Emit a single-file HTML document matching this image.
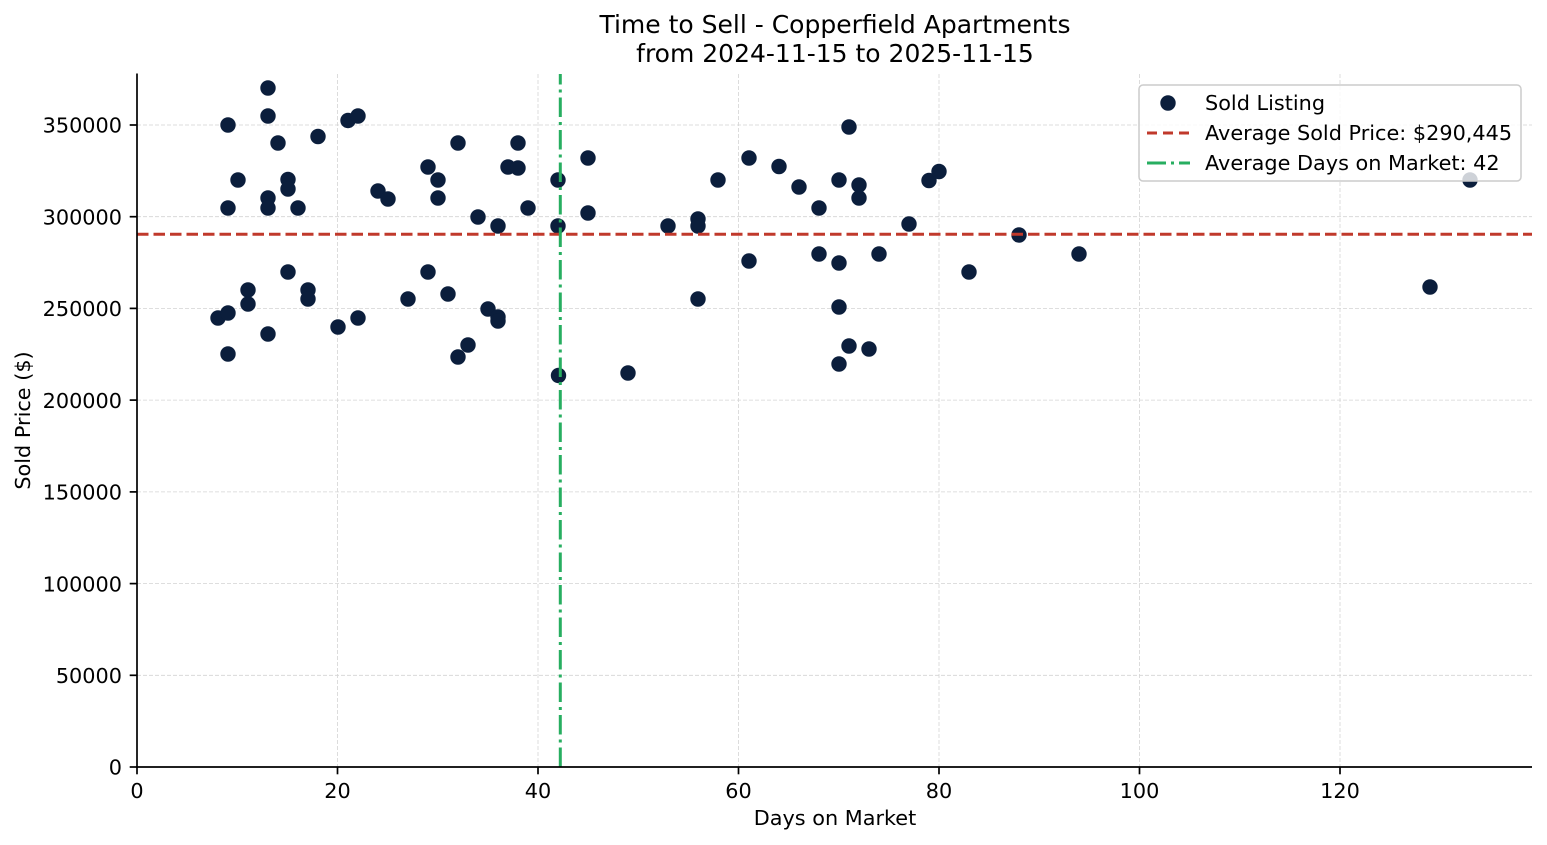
<!DOCTYPE html>
<html>
<head>
<meta charset="utf-8">
<style>
html,body{margin:0;padding:0;background:#fff;}
svg{display:block;}
text{font-family:"DejaVu Sans","Liberation Sans",sans-serif;fill:#000;}
</style>
</head>
<body>
<svg width="1547" height="845" viewBox="0 0 1547 845" xmlns="http://www.w3.org/2000/svg">
<rect width="1547" height="845" fill="#fff"/>
<g stroke="#d4d4d4" stroke-width="0.8" stroke-dasharray="4 2" fill="none">
<line x1="337.5" y1="74" x2="337.5" y2="767"/>
<line x1="538" y1="74" x2="538" y2="767"/>
<line x1="738.5" y1="74" x2="738.5" y2="767"/>
<line x1="939" y1="74" x2="939" y2="767"/>
<line x1="1139.5" y1="74" x2="1139.5" y2="767"/>
<line x1="1340" y1="74" x2="1340" y2="767"/>
<line x1="137" y1="675.3" x2="1532" y2="675.3"/>
<line x1="137" y1="583.6" x2="1532" y2="583.6"/>
<line x1="137" y1="491.9" x2="1532" y2="491.9"/>
<line x1="137" y1="400.1" x2="1532" y2="400.1"/>
<line x1="137" y1="308.4" x2="1532" y2="308.4"/>
<line x1="137" y1="216.7" x2="1532" y2="216.7"/>
<line x1="137" y1="125" x2="1532" y2="125"/>
</g>
<g fill="#0b1e3c">
<circle cx="268" cy="88" r="7.7"/>
<circle cx="228" cy="125" r="7.7"/>
<circle cx="268" cy="116" r="7.7"/>
<circle cx="278" cy="143" r="7.7"/>
<circle cx="318" cy="136.5" r="7.7"/>
<circle cx="348" cy="120.5" r="7.7"/>
<circle cx="358" cy="116" r="7.7"/>
<circle cx="238" cy="180" r="7.7"/>
<circle cx="288" cy="179.5" r="7.7"/>
<circle cx="288" cy="189" r="7.7"/>
<circle cx="268" cy="198" r="7.7"/>
<circle cx="268" cy="208" r="7.7"/>
<circle cx="228" cy="208" r="7.7"/>
<circle cx="298" cy="208" r="7.7"/>
<circle cx="378" cy="191" r="7.7"/>
<circle cx="388" cy="199" r="7.7"/>
<circle cx="428" cy="167" r="7.7"/>
<circle cx="428" cy="272" r="7.7"/>
<circle cx="288" cy="272" r="7.7"/>
<circle cx="248" cy="290" r="7.7"/>
<circle cx="248" cy="304" r="7.7"/>
<circle cx="308" cy="290" r="7.7"/>
<circle cx="308" cy="299" r="7.7"/>
<circle cx="408" cy="299" r="7.7"/>
<circle cx="218" cy="318" r="7.7"/>
<circle cx="228" cy="313" r="7.7"/>
<circle cx="358" cy="318" r="7.7"/>
<circle cx="338" cy="327" r="7.7"/>
<circle cx="268" cy="334" r="7.7"/>
<circle cx="228" cy="354" r="7.7"/>
<circle cx="458" cy="143" r="7.7"/>
<circle cx="518" cy="143" r="7.7"/>
<circle cx="508" cy="167" r="7.7"/>
<circle cx="518" cy="168" r="7.7"/>
<circle cx="438" cy="180" r="7.7"/>
<circle cx="438" cy="198" r="7.7"/>
<circle cx="558" cy="180" r="7.7"/>
<circle cx="588" cy="158" r="7.7"/>
<circle cx="478" cy="217" r="7.7"/>
<circle cx="498" cy="226" r="7.7"/>
<circle cx="528" cy="208" r="7.7"/>
<circle cx="558" cy="226" r="7.7"/>
<circle cx="588" cy="213" r="7.7"/>
<circle cx="668" cy="226" r="7.7"/>
<circle cx="698" cy="219" r="7.7"/>
<circle cx="698" cy="226" r="7.7"/>
<circle cx="448" cy="294" r="7.7"/>
<circle cx="488" cy="309" r="7.7"/>
<circle cx="498" cy="317" r="7.7"/>
<circle cx="498" cy="321" r="7.7"/>
<circle cx="468" cy="345" r="7.7"/>
<circle cx="458" cy="357" r="7.7"/>
<circle cx="558.5" cy="375.5" r="7.7"/>
<circle cx="628" cy="373" r="7.7"/>
<circle cx="698" cy="299" r="7.7"/>
<circle cx="849" cy="127" r="7.7"/>
<circle cx="749" cy="158" r="7.7"/>
<circle cx="779" cy="166.5" r="7.7"/>
<circle cx="718" cy="180" r="7.7"/>
<circle cx="839" cy="180" r="7.7"/>
<circle cx="799" cy="187" r="7.7"/>
<circle cx="859" cy="185" r="7.7"/>
<circle cx="859" cy="198" r="7.7"/>
<circle cx="819" cy="208" r="7.7"/>
<circle cx="929" cy="180.5" r="7.7"/>
<circle cx="939" cy="171.5" r="7.7"/>
<circle cx="909" cy="224" r="7.7"/>
<circle cx="749" cy="261" r="7.7"/>
<circle cx="819" cy="254" r="7.7"/>
<circle cx="839" cy="263" r="7.7"/>
<circle cx="879" cy="254" r="7.7"/>
<circle cx="969" cy="272" r="7.7"/>
<circle cx="839" cy="307" r="7.7"/>
<circle cx="849" cy="346" r="7.7"/>
<circle cx="869" cy="349" r="7.7"/>
<circle cx="839" cy="364" r="7.7"/>
<circle cx="1019" cy="235" r="7.7"/>
<circle cx="1079" cy="254" r="7.7"/>
<circle cx="1430" cy="287" r="7.7"/>
<circle cx="1470" cy="180" r="7.7"/>
</g>
<line x1="137" y1="234.2" x2="1532" y2="234.2" stroke="#c0392b" stroke-width="3" stroke-dasharray="11.5 5"/>
<line x1="560.3" y1="767" x2="560.3" y2="74" stroke="#27ae60" stroke-width="3" stroke-dasharray="19.5 5 3 5"/>
<g stroke="#000" stroke-width="1.7" fill="none">
<line x1="137" y1="73.5" x2="137" y2="767.8"/>
<line x1="136.2" y1="767" x2="1532" y2="767"/>
</g>
<g stroke="#000" stroke-width="1.7">
<line x1="137" y1="767" x2="137" y2="774.3"/>
<line x1="337.5" y1="767" x2="337.5" y2="774.3"/>
<line x1="538" y1="767" x2="538" y2="774.3"/>
<line x1="738.5" y1="767" x2="738.5" y2="774.3"/>
<line x1="939" y1="767" x2="939" y2="774.3"/>
<line x1="1139.5" y1="767" x2="1139.5" y2="774.3"/>
<line x1="1340" y1="767" x2="1340" y2="774.3"/>
<line x1="129.7" y1="767" x2="137" y2="767"/>
<line x1="129.7" y1="675.3" x2="137" y2="675.3"/>
<line x1="129.7" y1="583.6" x2="137" y2="583.6"/>
<line x1="129.7" y1="491.9" x2="137" y2="491.9"/>
<line x1="129.7" y1="400.1" x2="137" y2="400.1"/>
<line x1="129.7" y1="308.4" x2="137" y2="308.4"/>
<line x1="129.7" y1="216.7" x2="137" y2="216.7"/>
<line x1="129.7" y1="125" x2="137" y2="125"/>
</g>
<g font-size="20.8" text-anchor="middle">
<text x="137" y="798">0</text>
<text x="337.5" y="798">20</text>
<text x="538" y="798">40</text>
<text x="738.5" y="798">60</text>
<text x="939" y="798">80</text>
<text x="1139.5" y="798">100</text>
<text x="1340" y="798">120</text>
</g>
<g font-size="20.8" text-anchor="end">
<text x="122" y="774.7">0</text>
<text x="122" y="683">50000</text>
<text x="122" y="591.3">100000</text>
<text x="122" y="499.6">150000</text>
<text x="122" y="407.8">200000</text>
<text x="122" y="316.1">250000</text>
<text x="122" y="224.4">300000</text>
<text x="122" y="132.7">350000</text>
</g>
<text x="835" y="825" font-size="20.8" text-anchor="middle">Days on Market</text>
<text x="0" y="0" font-size="20.8" text-anchor="middle" transform="translate(30,420.5) rotate(-90)">Sold Price ($)</text>
<text x="835" y="33" font-size="25" text-anchor="middle">Time to Sell - Copperfield Apartments</text>
<text x="835" y="62" font-size="25" text-anchor="middle">from 2024-11-15 to 2025-11-15</text>
<rect x="1139" y="85" width="382" height="96" rx="4" ry="4" fill="#fff" fill-opacity="0.8" stroke="#cccccc" stroke-width="1.5"/>
<circle cx="1168" cy="103" r="7.7" fill="#0b1e3c"/>
<line x1="1147" y1="133" x2="1190" y2="133" stroke="#c0392b" stroke-width="3" stroke-dasharray="10 6"/>
<line x1="1147" y1="163" x2="1190" y2="163" stroke="#27ae60" stroke-width="3" stroke-dasharray="19 5 3 5"/>
<g font-size="20.8">
<text x="1205" y="110">Sold Listing</text>
<text x="1205" y="140">Average Sold Price: $290,445</text>
<text x="1205" y="170">Average Days on Market: 42</text>
</g>
</svg>
</body>
</html>
